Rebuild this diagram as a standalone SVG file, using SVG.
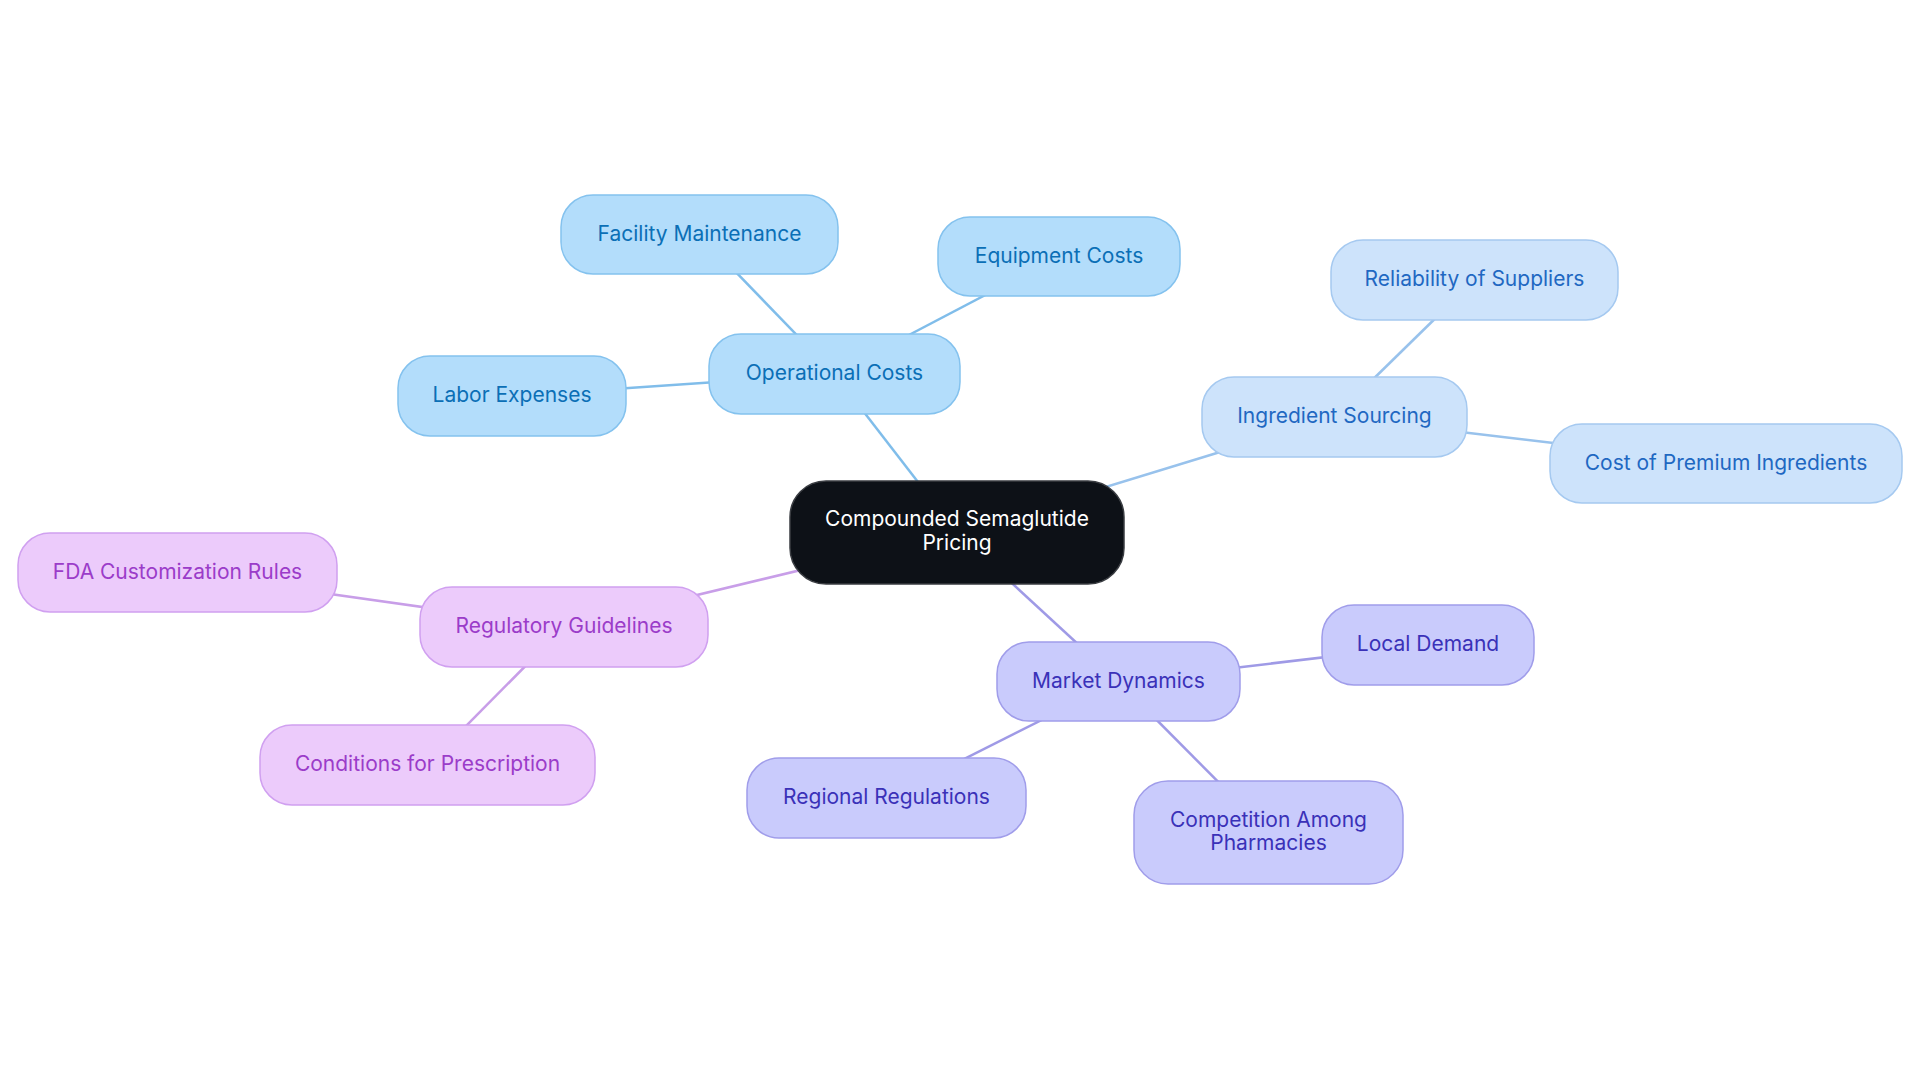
<svg xmlns="http://www.w3.org/2000/svg" width="1920" height="1083" viewBox="0 0 1920 1083">
<style>
text{font-family:Inter,"Noto Sans",sans-serif;font-size:21px;text-anchor:middle;dominant-baseline:central}
.c line{stroke-width:2.5;fill:none}
.lb{stroke:#80bdea}.li{stroke:#98c2ec}.lp{stroke:#c89ee8}.lm{stroke:#9f9ae6}
.nb rect{fill:#b3ddfb;stroke:#84c2ee;stroke-width:1.5}.nb text{fill:#0b6fb6}
.ni rect{fill:#cde3fb;stroke:#a5c9f0;stroke-width:1.5}.ni text{fill:#1f68c2}
.np rect{fill:#eccbfb;stroke:#d0a0f0;stroke-width:1.5}.np text{fill:#9b3cc9}
.nm rect{fill:#c9cbfc;stroke:#a09dea;stroke-width:1.5}.nm text{fill:#3a31b8}
.root rect{fill:#0d1117;stroke:#3a3d42;stroke-width:1.5}.root text{fill:#ffffff}
</style>
<rect width="1920" height="1083" fill="#ffffff"/>
<g class="c" id="connectors">
<line class="lb" x1="957" y1="532.5" x2="834.5" y2="374"/>
<line class="lb" x1="834.5" y1="374" x2="699.5" y2="234.5"/>
<line class="lb" x1="834.5" y1="374" x2="1059" y2="256.5"/>
<line class="lb" x1="834.5" y1="374" x2="512" y2="396"/>
<line class="li" x1="957" y1="532.5" x2="1334.5" y2="417"/>
<line class="li" x1="1334.5" y1="417" x2="1474.5" y2="280"/>
<line class="li" x1="1334.5" y1="417" x2="1726" y2="463.5"/>
<line class="lp" x1="957" y1="532.5" x2="564" y2="627"/>
<line class="lp" x1="564" y1="627" x2="177.5" y2="572.5"/>
<line class="lp" x1="564" y1="627" x2="427.5" y2="765"/>
<line class="lm" x1="957" y1="532.5" x2="1118.5" y2="681.5"/>
<line class="lm" x1="1118.5" y1="681.5" x2="1428" y2="645"/>
<line class="lm" x1="1118.5" y1="681.5" x2="886.5" y2="798"/>
<line class="lm" x1="1118.5" y1="681.5" x2="1268.5" y2="832.5"/>
</g>
<g id="root" class="root"><rect x="790" y="481" width="334" height="103" rx="36"/><text x="957" y="518.5">Compounded Semaglutide</text><text x="957" y="542.5">Pricing</text></g>
<g id="operational-costs" class="nb"><rect x="709" y="334" width="251" height="80" rx="32"/><text x="834.5" y="372.5">Operational Costs</text></g>
<g id="facility-maintenance" class="nb"><rect x="561" y="195" width="277" height="79" rx="32"/><text x="699.5" y="233">Facility Maintenance</text></g>
<g id="equipment-costs" class="nb"><rect x="938" y="217" width="242" height="79" rx="32"/><text x="1059" y="255">Equipment Costs</text></g>
<g id="labor-expenses" class="nb"><rect x="398" y="356" width="228" height="80" rx="32"/><text x="512" y="394.5">Labor Expenses</text></g>
<g id="ingredient-sourcing" class="ni"><rect x="1202" y="377" width="265" height="80" rx="32"/><text x="1334.5" y="415.5">Ingredient Sourcing</text></g>
<g id="reliability-of-suppliers" class="ni"><rect x="1331" y="240" width="287" height="80" rx="32"/><text x="1474.5" y="278.5">Reliability of Suppliers</text></g>
<g id="cost-of-premium-ingredients" class="ni"><rect x="1550" y="424" width="352" height="79" rx="32"/><text x="1726" y="462">Cost of Premium Ingredients</text></g>
<g id="regulatory-guidelines" class="np"><rect x="420" y="587" width="288" height="80" rx="32"/><text x="564" y="625.5">Regulatory Guidelines</text></g>
<g id="fda-customization-rules" class="np"><rect x="18" y="533" width="319" height="79" rx="32"/><text x="177.5" y="571">FDA Customization Rules</text></g>
<g id="conditions-for-prescription" class="np"><rect x="260" y="725" width="335" height="80" rx="32"/><text x="427.5" y="763.5">Conditions for Prescription</text></g>
<g id="market-dynamics" class="nm"><rect x="997" y="642" width="243" height="79" rx="32"/><text x="1118.5" y="680">Market Dynamics</text></g>
<g id="local-demand" class="nm"><rect x="1322" y="605" width="212" height="80" rx="32"/><text x="1428" y="643.5">Local Demand</text></g>
<g id="regional-regulations" class="nm"><rect x="747" y="758" width="279" height="80" rx="32"/><text x="886.5" y="796.5">Regional Regulations</text></g>
<g id="competition-among-pharmacies" class="nm"><rect x="1134" y="781" width="269" height="103" rx="34"/><text x="1268.5" y="819">Competition Among</text><text x="1268.5" y="842">Pharmacies</text></g>
</svg>
